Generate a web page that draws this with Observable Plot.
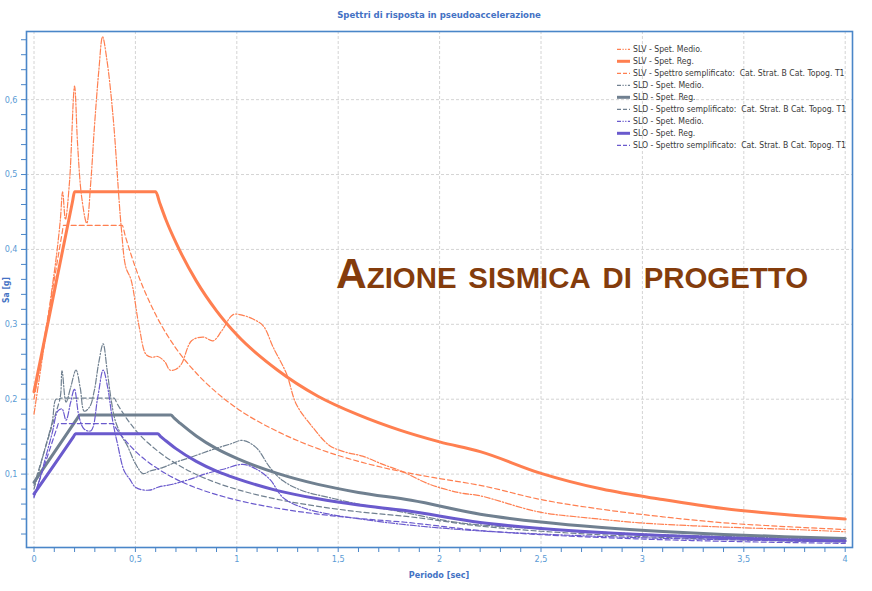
<!DOCTYPE html>
<html><head><meta charset="utf-8">
<script src="https://cdn.jsdelivr.net/npm/d3@7"></script>
<script src="https://cdn.jsdelivr.net/npm/@observablehq/plot@0.6"></script>
<style>
body{margin:0;background:#fff;}
#chart{width:872px;height:591px;}
</style>
</head><body><div id="chart"></div>
<script>
// ---------- data ----------
const title = "Spettri di risposta in pseudoaccelerazione";
const xLabel = "Periodo [sec]";
const yLabel = "Sa [g]";
const annotation = "Azione sismica di progetto";

const xTickValues = [0, 0.5, 1, 1.5, 2, 2.5, 3, 3.5, 4];
const xTickLabels = ["0", "0,5", "1", "1,5", "2", "2,5", "3", "3,5", "4"];
const yTickValues = [0.1, 0.2, 0.3, 0.4, 0.5, 0.6];
const yTickLabels = ["0,1", "0,2", "0,3", "0,4", "0,5", "0,6"];

// SLV
const slvMedioT  = [0, 0.03, 0.06, 0.09, 0.11, 0.13, 0.141, 0.155, 0.175, 0.2, 0.215, 0.235, 0.26, 0.28, 0.297, 0.32, 0.338, 0.36, 0.39, 0.43, 0.453, 0.478, 0.519, 0.552, 0.58, 0.61, 0.645, 0.67, 0.7, 0.727, 0.777, 0.834, 0.883, 0.925, 0.982, 1.03, 1.08, 1.13, 1.18, 1.245, 1.294, 1.376, 1.458, 1.54, 1.62, 1.72, 1.82, 1.95, 2.1, 2.2, 2.49, 2.75, 2.985, 3.25, 3.48, 3.75, 4.0];
const slvMedioSa = [0.18, 0.235, 0.29, 0.35, 0.39, 0.44, 0.477, 0.44, 0.49, 0.618, 0.54, 0.47, 0.435, 0.49, 0.56, 0.64, 0.684, 0.652, 0.577, 0.43, 0.376, 0.36, 0.296, 0.26, 0.256, 0.257, 0.25, 0.239, 0.24, 0.247, 0.278, 0.283, 0.278, 0.291, 0.313, 0.312, 0.307, 0.298, 0.269, 0.234, 0.193, 0.162, 0.138, 0.129, 0.124, 0.113, 0.103, 0.0865, 0.075, 0.071, 0.0495, 0.041, 0.035, 0.031, 0.0285, 0.026, 0.023];
const slvRegT  = [0, 0.19, 0.2, 0.6, 0.62, 0.65, 0.7, 0.8, 0.9, 1.0, 1.2, 1.4, 1.6, 1.8, 2.0, 2.2, 2.5, 2.8, 3.1, 3.4, 3.7, 4.0];
const slvRegSa = [0.21, 0.464, 0.477, 0.477, 0.462, 0.440, 0.409, 0.358, 0.318, 0.286, 0.239, 0.204, 0.179, 0.159, 0.143, 0.130, 0.101, 0.080, 0.066, 0.054, 0.046, 0.040];
const slvSempT  = [0, 0.14, 0.145, 0.435, 0.45, 0.5, 0.6, 0.7, 0.8, 0.9, 1.0, 1.2, 1.4, 1.6, 1.8, 2.0, 2.2, 2.5, 2.8, 3.1, 3.4, 3.7, 4.0];
const slvSempSa = [0.2, 0.424, 0.432, 0.432, 0.418, 0.376, 0.313, 0.268, 0.235, 0.209, 0.188, 0.157, 0.134, 0.117, 0.104, 0.094, 0.085, 0.066, 0.053, 0.043, 0.035, 0.030, 0.026];

// SLD
const sldMedioT  = [0, 0.03, 0.06, 0.09, 0.108, 0.125, 0.138, 0.158, 0.18, 0.207, 0.228, 0.248, 0.275, 0.297, 0.32, 0.341, 0.36, 0.38, 0.40, 0.43, 0.46, 0.5, 0.538, 0.571, 0.637, 0.7, 0.768, 0.883, 0.966, 1.031, 1.097, 1.163, 1.228, 1.327, 1.458, 1.62, 1.787, 2.1, 2.5, 3.0, 3.5, 4.0];
const sldMedioSa = [0.08, 0.11, 0.14, 0.17, 0.2, 0.2, 0.238, 0.196, 0.215, 0.239, 0.215, 0.184, 0.19, 0.211, 0.25, 0.274, 0.24, 0.2, 0.172, 0.152, 0.138, 0.114, 0.1007, 0.104, 0.109, 0.116, 0.122, 0.133, 0.14, 0.145, 0.135, 0.109, 0.091, 0.0775, 0.0686, 0.0588, 0.0508, 0.035, 0.027, 0.02, 0.016, 0.013];
const sldRegT  = [0, 0.215, 0.225, 0.675, 0.69, 0.72, 0.8, 0.9, 1.0, 1.2, 1.4, 1.6, 1.86, 2.2, 2.5, 2.8, 3.1, 3.4, 3.7, 4.0];
const sldRegSa = [0.089, 0.175, 0.179, 0.179, 0.175, 0.168, 0.151, 0.134, 0.121, 0.101, 0.0863, 0.0755, 0.065, 0.0465, 0.036, 0.0287, 0.0234, 0.0195, 0.0164, 0.0141];
const sldSempT  = [0, 0.125, 0.13, 0.395, 0.41, 0.44, 0.5, 0.6, 0.7, 0.8, 0.9, 1.0, 1.2, 1.4, 1.6, 1.86, 2.2, 2.5, 2.8, 3.1, 3.4, 3.7, 4.0];
const sldSempSa = [0.085, 0.197, 0.2015, 0.2015, 0.194, 0.181, 0.159, 0.133, 0.114, 0.0995, 0.0884, 0.0796, 0.0663, 0.0569, 0.0497, 0.0428, 0.0306, 0.0237, 0.0189, 0.0154, 0.0128, 0.0108, 0.0093];

// SLO
const sloMedioT  = [0, 0.03, 0.06, 0.09, 0.117, 0.138, 0.158, 0.18, 0.199, 0.223, 0.248, 0.281, 0.314, 0.341, 0.363, 0.388, 0.412, 0.445, 0.473, 0.502, 0.568, 0.617, 0.683, 0.768, 0.85, 0.933, 1.03, 1.097, 1.163, 1.228, 1.327, 1.458, 1.62, 1.787, 2.1, 2.5, 3.0, 3.5, 4.0];
const sloMedioSa = [0.0686, 0.095, 0.125, 0.155, 0.184, 0.187, 0.172, 0.195, 0.2135, 0.1755, 0.16, 0.158, 0.202, 0.239, 0.216, 0.171, 0.14, 0.104, 0.093, 0.082, 0.0785, 0.083, 0.0865, 0.093, 0.1007, 0.1065, 0.113, 0.1065, 0.093, 0.0686, 0.055, 0.0464, 0.0397, 0.0338, 0.026, 0.02, 0.015, 0.012, 0.01];
const sloRegT  = [0, 0.195, 0.205, 0.61, 0.625, 0.65, 0.7, 0.8, 0.9, 1.0, 1.2, 1.4, 1.6, 1.83, 2.2, 2.5, 2.8, 3.1, 3.4, 3.7, 4.0];
const sloRegSa = [0.0735, 0.150, 0.154, 0.154, 0.150, 0.1445, 0.134, 0.117, 0.104, 0.094, 0.078, 0.067, 0.0587, 0.0513, 0.0355, 0.0275, 0.0219, 0.0179, 0.0149, 0.0125, 0.0107];
const sloSempT  = [0, 0.115, 0.12, 0.39, 0.405, 0.44, 0.5, 0.6, 0.7, 0.8, 0.9, 1.0, 1.2, 1.4, 1.6, 1.83, 2.2, 2.5, 2.8, 3.1, 3.4, 3.7, 4.0];
const sloSempSa = [0.07, 0.1634, 0.1675, 0.1675, 0.161, 0.1484, 0.1306, 0.109, 0.0933, 0.0816, 0.0726, 0.0653, 0.0544, 0.0466, 0.0408, 0.0357, 0.0247, 0.0191, 0.0153, 0.0124, 0.0103, 0.0087, 0.0075];

const seriesNames = [
  "SLV - Spet. Medio.",
  "SLV - Spet. Reg.",
  "SLV - Spettro semplificato:  Cat. Strat. B Cat. Topog. T1",
  "SLD - Spet. Medio.",
  "SLD - Spet. Reg.",
  "SLD - Spettro semplificato:  Cat. Strat. B Cat. Topog. T1",
  "SLO - Spet. Medio.",
  "SLO - Spet. Reg.",
  "SLO - Spettro semplificato:  Cat. Strat. B Cat. Topog. T1"
];
const seriesData = [
  [slvMedioT, slvMedioSa], [slvRegT, slvRegSa], [slvSempT, slvSempSa],
  [sldMedioT, sldMedioSa], [sldRegT, sldRegSa], [sldSempT, sldSempSa],
  [sloMedioT, sloMedioSa], [sloRegT, sloRegSa], [sloSempT, sloSempSa]
];

// ---------- styles ----------
const colors = {SLV: "#ff7f50", SLD: "#708090", SLO: "#6a5acd"};
const kinds = {
  medio: {strokeWidth: 1.2, strokeDasharray: "6,1.8,1.4,1.8", curve: "catmull-rom"},
  reg:   {strokeWidth: 3,   strokeDasharray: null, curve: "monotone-x"},
  semp:  {strokeWidth: 1.2, strokeDasharray: "5,3", curve: "monotone-x"}
};
const kindOrder = ["medio", "reg", "semp"];
const stateOrder = ["SLV", "SLV", "SLV", "SLD", "SLD", "SLD", "SLO", "SLO", "SLO"];

const blue = "#4a86c8";
const lightBlue = "#5b9bd5";
const fontMain = "'Liberation Sans Narrow', 'DejaVu Sans Condensed', 'Liberation Sans', sans-serif";

const tables = seriesData.map(([T, S]) => T.map((t, i) => ({T: t, Sa: S[i]})));

const xMinor = d3.range(0, 40.01, 1).map(d => d / 10);
const yMinor = d3.range(1, 34.5, 1).map(d => d / 50);

const lineMarks = tables.map((tbl, i) => {
  const k = kinds[kindOrder[i % 3]];
  return Plot.line(tbl, {
    x: "T", y: "Sa", curve: k.curve,
    stroke: colors[stateOrder[i]],
    strokeWidth: k.strokeWidth,
    strokeDasharray: k.strokeDasharray,
    strokeLinejoin: "round"
  });
});

const plot = Plot.plot({
  width: 872, height: 591,
  marginLeft: 26, marginRight: 20, marginTop: 31, marginBottom: 44,
  style: {fontFamily: fontMain, background: "#fff", overflow: "visible"},
  x: {domain: [-0.037, 4.036]},
  y: {domain: [0.002, 0.691]},
  marks: [
    Plot.gridX(xTickValues, {stroke: "#d4d4d4", strokeOpacity: 1, strokeDasharray: "3,2"}),
    Plot.gridY(yTickValues, {stroke: "#d4d4d4", strokeOpacity: 1, strokeDasharray: "3,2"}),
    ...lineMarks,
    Plot.frame({stroke: blue, strokeWidth: 1.6}),
    Plot.axisX(xMinor, {tickSize: 5, tickFormat: () => "", label: null, stroke: blue}),
    Plot.axisX(xTickValues, {tickSize: 0, tickPadding: 8, label: null, fill: lightBlue, fontSize: 9,
      tickFormat: d => xTickLabels[xTickValues.indexOf(d)]}),
    Plot.axisY(yMinor, {tickSize: 5, tickFormat: () => "", label: null, stroke: blue}),
    Plot.axisY(yTickValues, {tickSize: 0, tickPadding: 9, label: null, fill: lightBlue, fontSize: 9,
      tickFormat: d => yTickLabels[yTickValues.indexOf(d)]})
  ]
});
document.getElementById("chart").appendChild(plot);

// ---------- titles, legend, annotation ----------
const svg = d3.select(plot);
svg.append("text").attr("x", 439).attr("y", 15).attr("text-anchor", "middle")
  .attr("dominant-baseline", "middle").attr("font-size", 9.5).attr("font-weight", "bold")
  .attr("fill", "#4472c4").text(title);
svg.append("text").attr("x", 439).attr("y", 575).attr("text-anchor", "middle")
  .attr("dominant-baseline", "middle").attr("font-size", 9).attr("font-weight", "bold")
  .attr("fill", "#4472c4").text(xLabel);
svg.append("text").attr("transform", "translate(6,290) rotate(-90)").attr("text-anchor", "middle")
  .attr("dominant-baseline", "middle").attr("font-size", 8.5).attr("font-weight", "bold")
  .attr("fill", "#4472c4").text(yLabel);

const legend = svg.append("g").attr("text-anchor", "start");
seriesNames.forEach((name, i) => {
  const y = 49.3 + i * 12.0;
  const k = kinds[kindOrder[i % 3]];
  legend.append("line").attr("x1", 617).attr("x2", 630).attr("y1", y).attr("y2", y)
    .attr("stroke", colors[stateOrder[i]])
    .attr("stroke-width", k.strokeWidth === 3 ? 3 : 1.3)
    .attr("stroke-dasharray", i % 3 === 0 ? "4,1.5,1.2,1.5,1.2,1.5" : (i % 3 === 2 ? "4,2" : null));
  legend.append("text").attr("x", 633).attr("y", y).attr("dominant-baseline", "middle")
    .attr("text-anchor", "start")
    .attr("font-size", 8.6).attr("fill", "#3a3a3a").text(name);
});

svg.append("text").attr("x", 336).attr("y", 288).attr("text-anchor", "start")
  .attr("font-family", "'Liberation Sans', Arial, sans-serif")
  .attr("font-size", 42).attr("font-weight", "bold").attr("font-variant", "small-caps")
  .attr("fill", "#843c0c").attr("textLength", 472).attr("lengthAdjust", "spacingAndGlyphs")
  .text(annotation);
</script></body></html>
